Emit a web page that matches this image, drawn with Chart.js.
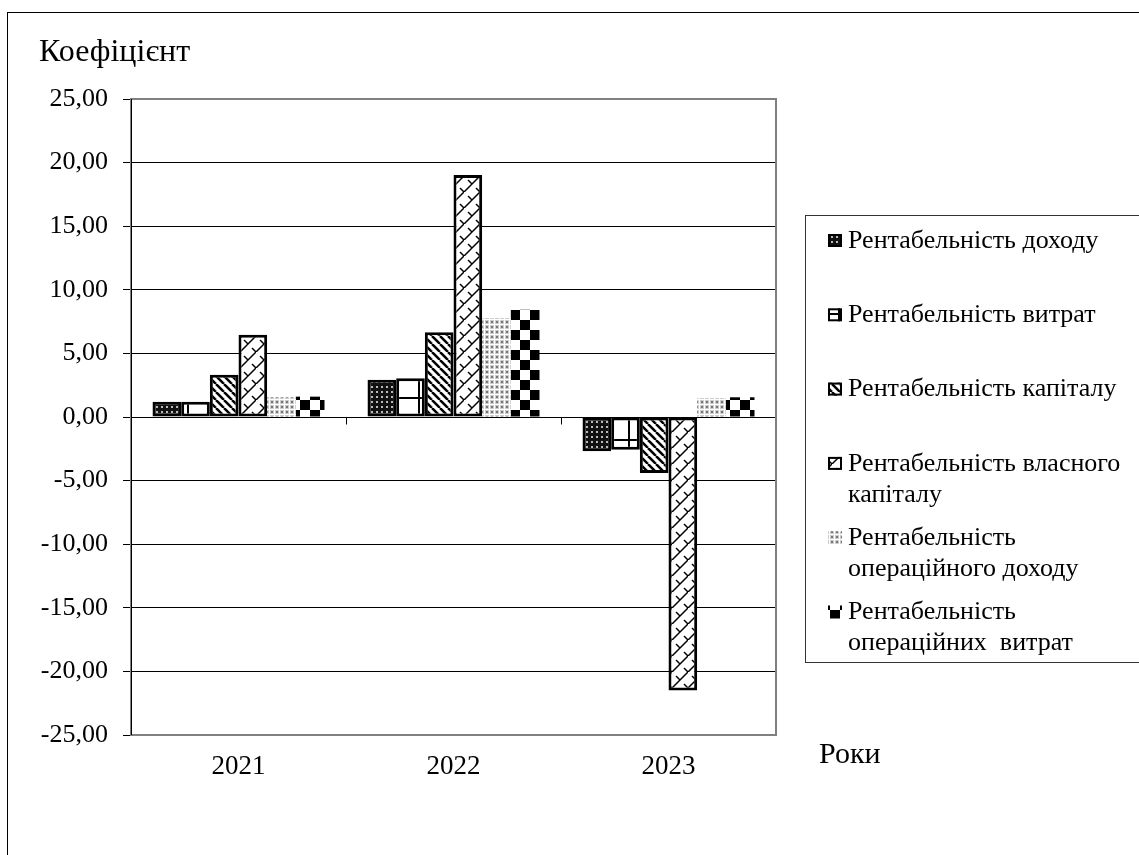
<!DOCTYPE html>
<html>
<head>
<meta charset="utf-8">
<script src="https://cdn.jsdelivr.net/npm/chart.js@4.4.0/dist/chart.umd.min.js"></script>
<style>
  html, body { margin: 0; padding: 0; background: #fff; overflow: hidden; }
  .frame { position: absolute; left: 7px; top: 12px; width: 1200px; height: 900px; border: 1px solid #000; }
  #chart { position: absolute; left: 0; top: 0; }
</style>
</head>
<body>
<div class="frame"></div>
<canvas id="chart" width="1139" height="855"></canvas>
<script>
// data
const years = ['2021', '2022', '2023'];
const incomeReturn = [1.20, 2.93, -2.70];
const costReturn = [1.20, 3.04, -2.57];
const capitalReturn = [3.33, 6.66, -4.40];
const equityReturn = [6.47, 19.03, -21.50];
const opIncomeReturn = [1.55, 7.78, 1.49];
const opCostReturn = [1.60, 8.44, 1.55];

const seriesLabels = [
  ['Рентабельність доходу'],
  ['Рентабельність витрат'],
  ['Рентабельність капіталу'],
  ['Рентабельність власного', 'капіталу'],
  ['Рентабельність', 'операційного доходу'],
  ['Рентабельність', 'операційних  витрат']
];
const yTitle = 'Коефіцієнт';
const xTitle = 'Роки';

const FONT = "'Liberation Serif', 'Times New Roman', serif";

// hatch patterns like the old Excel fills
function makePattern(w, h, draw) {
  const c = document.createElement('canvas');
  c.width = w; c.height = h;
  const g = c.getContext('2d');
  draw(g, w, h);
  return g.createPattern(c, 'repeat');
}

const pDarkDots = makePattern(5, 5, (g) => {
  g.fillStyle = '#111'; g.fillRect(0, 0, 5, 5);
  g.fillStyle = '#bbb'; g.fillRect(1, 1, 2, 2);
});
const pGrid = makePattern(21, 21, (g) => {
  g.fillStyle = '#fff'; g.fillRect(0, 0, 21, 21);
  g.fillStyle = '#000'; g.fillRect(19, 0, 2, 21); g.fillRect(0, 19, 21, 2);
});
const pStripes = makePattern(8, 8, (g) => {
  g.fillStyle = '#fff'; g.fillRect(0, 0, 8, 8);
  g.strokeStyle = '#000'; g.lineWidth = 2.5;
  for (const k of [-8, 0, 8]) { g.beginPath(); g.moveTo(k, 0); g.lineTo(k + 8, 8); g.stroke(); }
});
const pZigzag = makePattern(16, 16, (g) => {
  g.fillStyle = '#fff'; g.fillRect(0, 0, 16, 16);
  g.strokeStyle = '#000'; g.lineWidth = 1.5;
  g.beginPath(); g.moveTo(-1, 17); g.lineTo(17, -1); g.stroke();
  g.beginPath(); g.moveTo(4, 4); g.lineTo(8, 8); g.stroke();
  g.beginPath(); g.moveTo(12, 12); g.lineTo(16, 16); g.stroke();
});
const pLightDots = makePattern(5, 5, (g) => {
  g.fillStyle = '#fff'; g.fillRect(0, 0, 5, 5);
  g.fillStyle = '#ccc'; g.fillRect(0, 0, 4, 4);
  g.fillStyle = '#777'; g.fillRect(1, 1, 2, 2);
});
const pChecker = makePattern(20, 20, (g) => {
  g.fillStyle = '#fff'; g.fillRect(0, 0, 20, 20);
  g.fillStyle = '#000'; g.fillRect(0, 0, 10, 10); g.fillRect(10, 10, 10, 10);
});

const fills = [pDarkDots, pGrid, pStripes, pZigzag, pLightDots, pChecker];
const borders = [3, 3, 3, 3, 0, 0];
const values = [incomeReturn, costReturn, capitalReturn, equityReturn, opIncomeReturn, opCostReturn];

// frame, zero-line ticks, titles and the legend box
const extras = {
  id: 'extras',
  afterDraw(chart) {
    const { ctx, chartArea: a, scales } = chart;
    ctx.save();
    ctx.strokeStyle = '#808080';
    ctx.lineWidth = 2;
    ctx.strokeRect(a.left, a.top, a.right - a.left, a.bottom - a.top);
    ctx.strokeStyle = '#000';
    ctx.lineWidth = 1;
    ctx.beginPath(); ctx.moveTo(a.left + 0.5, a.top); ctx.lineTo(a.left + 0.5, a.bottom); ctx.stroke();

    // category tick marks on the zero line
    const y0 = Math.round(scales.y.getPixelForValue(0)) + 0.5;
    const step = (a.right - a.left) / years.length;
    ctx.beginPath();
    for (let i = 1; i < years.length; i++) {
      const x = Math.round(a.left + step * i) + 0.5;
      ctx.moveTo(x, y0); ctx.lineTo(x, y0 + 7);
    }
    ctx.stroke();

    ctx.fillStyle = '#000';
    ctx.textBaseline = 'middle';
    ctx.textAlign = 'left';
    ctx.font = '32px ' + FONT;
    ctx.fillText(yTitle, 39, 53);
    ctx.font = '30px ' + FONT;
    ctx.fillText(xTitle, 819, 755);

    // legend
    ctx.strokeStyle = '#333';
    ctx.lineWidth = 1;
    ctx.strokeRect(805.5, 215.5, 400, 447);
    ctx.font = '26px ' + FONT;
    seriesLabels.forEach((lines, i) => {
      const yy = 241 + i * 74.3;
      ctx.fillStyle = fills[i];
      ctx.fillRect(828, yy - 7, 14, 13);
      if (borders[i]) {
        ctx.strokeStyle = '#000'; ctx.lineWidth = 2;
        ctx.strokeRect(829, yy - 6, 12, 11);
      }
      ctx.fillStyle = '#000';
      lines.forEach((t, j) => ctx.fillText(t, 848, yy + j * 31));
    });
    ctx.restore();
  }
};

new Chart(document.getElementById('chart'), {
  type: 'bar',
  data: {
    labels: years,
    datasets: values.map((v, i) => ({
      label: seriesLabels[i].join(' '),
      data: v,
      backgroundColor: fills[i],
      borderColor: '#000',
      borderWidth: borders[i],
      borderSkipped: false,
      barPercentage: 1,
      categoryPercentage: 0.8
    }))
  },
  options: {
    responsive: false,
    animation: false,
    devicePixelRatio: 1,
    layout: { padding: { top: 99, right: 363, left: 0, bottom: 0 } },
    plugins: { legend: { display: false }, tooltip: { enabled: false } },
    scales: {
      x: {
        grid: { display: false, drawTicks: false },
        border: { display: false },
        ticks: { color: '#000', font: { family: FONT, size: 27 }, padding: 16 },
        afterFit: (s) => { s.height = 120; }
      },
      y: {
        min: -25,
        max: 25,
        ticks: {
          stepSize: 5,
          color: '#000',
          padding: 15,
          font: { family: FONT, size: 26 },
          callback: (v) => v.toFixed(2).replace('.', ',')
        },
        grid: { color: '#000', lineWidth: 1, tickLength: 8 },
        border: { color: '#000' },
        afterFit: (s) => { s.width = 131; }
      }
    }
  },
  plugins: [extras]
});
</script>
</body>
</html>
